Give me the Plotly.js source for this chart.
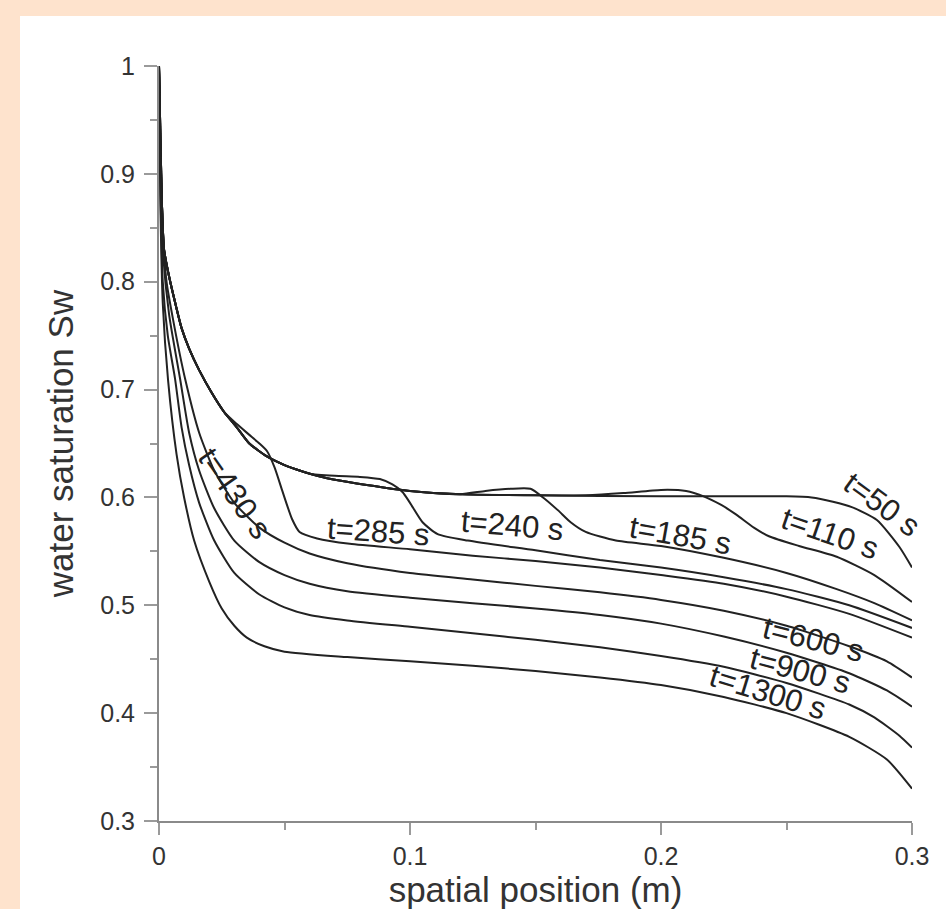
<!DOCTYPE html>
<html>
<head>
<meta charset="utf-8">
<script src="https://cdn.plot.ly/plotly-3.0.1.min.js"></script>
<style>
  html, body { margin: 0; padding: 0; background: #FEE3CD; width: 946px; height: 909px; overflow: hidden; }
  #plot { position: absolute; left: 20px; top: 16px; width: 926px; height: 893px; }
</style>
</head>
<body>
<div id="plot"></div>
<script>
// ---- data ----
const timeLabels = ["t=50 s", "t=110 s", "t=185 s", "t=240 s", "t=285 s", "t=430 s", "t=600 s", "t=900 s", "t=1300 s"];

// common early envelope shared by the early-time profiles
const xEnv  = [0, 0.0006, 0.0012, 0.002, 0.004, 0.0065, 0.009, 0.012, 0.016, 0.021, 0.026, 0.031, 0.036, 0.043, 0.05, 0.056, 0.065, 0.076, 0.09, 0.1, 0.12];
const swEnv = [1, 0.93, 0.87, 0.83, 0.805, 0.78, 0.757, 0.738, 0.718, 0.697, 0.679, 0.665, 0.65, 0.638, 0.63, 0.625, 0.619, 0.614, 0.609, 0.606, 0.603];

const x_t50  = [0.15, 0.2, 0.25, 0.26, 0.2685, 0.276, 0.286, 0.295, 0.3];
const sw_t50 = [0.602, 0.601, 0.601, 0.6, 0.596, 0.591, 0.579, 0.554, 0.535];

const x_t110  = [0.15, 0.17, 0.185, 0.2, 0.21, 0.217, 0.224, 0.23, 0.237, 0.243, 0.255, 0.27, 0.285, 0.3];
const sw_t110 = [0.602, 0.602, 0.604, 0.607, 0.606, 0.601, 0.593, 0.584, 0.572, 0.564, 0.555, 0.545, 0.528, 0.503];

const x_t185  = [0.13, 0.14, 0.148, 0.153, 0.159, 0.164, 0.17, 0.182, 0.2, 0.225, 0.25, 0.27, 0.285, 0.3];
const sw_t185 = [0.606, 0.608, 0.608, 0.6, 0.588, 0.577, 0.568, 0.56, 0.555, 0.544, 0.53, 0.515, 0.502, 0.486];

const x_t240  = [0.06, 0.07, 0.08, 0.088, 0.093, 0.097, 0.1, 0.105, 0.111, 0.123, 0.15, 0.1757, 0.2, 0.225, 0.25, 0.275, 0.3];
const sw_t240 = [0.622, 0.62, 0.619, 0.617, 0.612, 0.605, 0.595, 0.577, 0.566, 0.56, 0.551, 0.542, 0.535, 0.526, 0.515, 0.5, 0.479];

const x_t285  = [0.031, 0.036, 0.04, 0.043, 0.046, 0.049, 0.053, 0.056, 0.063, 0.076, 0.1, 0.125, 0.15, 0.1757, 0.2, 0.225, 0.25, 0.275, 0.3];
const sw_t285 = [0.668, 0.658, 0.65, 0.643, 0.628, 0.607, 0.58, 0.568, 0.562, 0.557, 0.552, 0.546, 0.541, 0.535, 0.528, 0.52, 0.508, 0.492, 0.47];

const x_t430  = [0, 0.0006, 0.0015, 0.003, 0.006, 0.0104, 0.016, 0.022, 0.03, 0.04, 0.05, 0.06, 0.075, 0.1, 0.125, 0.15, 0.1757, 0.2, 0.225, 0.25, 0.275, 0.29, 0.3];
const sw_t430 = [1, 0.92, 0.85, 0.8, 0.76, 0.71, 0.66, 0.625, 0.595, 0.572, 0.558, 0.548, 0.539, 0.53, 0.524, 0.518, 0.512, 0.505, 0.495, 0.481, 0.462, 0.448, 0.433];

const x_t600  = [0, 0.0006, 0.0015, 0.004, 0.0084, 0.012, 0.016, 0.022, 0.03, 0.04, 0.05, 0.06, 0.075, 0.1, 0.125, 0.15, 0.1757, 0.2, 0.225, 0.25, 0.275, 0.29, 0.3];
const sw_t600 = [1, 0.91, 0.83, 0.77, 0.71, 0.66, 0.625, 0.59, 0.56, 0.54, 0.528, 0.52, 0.513, 0.507, 0.502, 0.497, 0.491, 0.483, 0.471, 0.456, 0.437, 0.421, 0.406];

const x_t900  = [0, 0.0005, 0.0015, 0.0035, 0.0064, 0.009, 0.012, 0.016, 0.022, 0.03, 0.04, 0.05, 0.06, 0.075, 0.1, 0.125, 0.15, 0.1757, 0.2, 0.225, 0.25, 0.275, 0.285, 0.295, 0.3];
const sw_t900 = [1, 0.9, 0.8, 0.75, 0.71, 0.665, 0.63, 0.595, 0.56, 0.53, 0.51, 0.498, 0.491, 0.486, 0.48, 0.474, 0.468, 0.461, 0.453, 0.443, 0.428, 0.408, 0.396, 0.379, 0.368];

const x_t1300  = [0, 0.0005, 0.0015, 0.0036, 0.007, 0.01, 0.014, 0.02, 0.025, 0.03, 0.035, 0.042, 0.05, 0.075, 0.1, 0.125, 0.15, 0.1757, 0.2, 0.225, 0.25, 0.275, 0.29, 0.3];
const sw_t1300 = [1, 0.88, 0.78, 0.709, 0.64, 0.6, 0.56, 0.522, 0.497, 0.481, 0.47, 0.462, 0.457, 0.452, 0.448, 0.444, 0.439, 0.433, 0.426, 0.415, 0.4, 0.378, 0.357, 0.33];

const xTickVals = [0, 0.1, 0.2, 0.3];
const yTickVals = [0.3, 0.4, 0.5, 0.6, 0.7, 0.8, 0.9, 1];

// ---- build traces ----
function withEnv(xs, ys) {
  const x0 = xs[0];
  const ex = [], ey = [];
  for (let i = 0; i < xEnv.length; i++) {
    if (xEnv[i] < x0) { ex.push(xEnv[i]); ey.push(swEnv[i]); }
  }
  return { x: ex.concat(xs), y: ey.concat(ys) };
}
const curves = [
  withEnv(x_t50, sw_t50),
  withEnv(x_t110, sw_t110),
  withEnv(x_t185, sw_t185),
  withEnv(x_t240, sw_t240),
  withEnv(x_t285, sw_t285),
  { x: x_t430, y: sw_t430 },
  { x: x_t600, y: sw_t600 },
  { x: x_t900, y: sw_t900 },
  { x: x_t1300, y: sw_t1300 }
];
const traces = curves.map((c, i) => ({
  x: c.x, y: c.y, name: timeLabels[i], type: 'scatter', mode: 'lines',
  line: { color: '#222222', width: 2, shape: 'spline', smoothing: 0.6 },
  hoverinfo: 'skip'
}));

// label placement (layout only)
const labelPos = [
  [0.288, 0.593, 36], [0.2673, 0.567, 19], [0.2076, 0.565, 10], [0.141, 0.574, 5],
  [0.0873, 0.568, 4], [0.0303, 0.604, 55], [0.2606, 0.468, 14], [0.2554, 0.44, 15], [0.2426, 0.419, 17]
];
const annotations = timeLabels.map((t, i) => ({
  x: labelPos[i][0], y: labelPos[i][1], xref: 'x', yref: 'y', text: t,
  showarrow: false, textangle: labelPos[i][2],
  font: { family: 'Liberation Sans, Arial, sans-serif', size: 31, color: '#222' }
}));

const axisCommon = {
  showgrid: false, zeroline: false, showline: true, linecolor: '#8a8a8a', linewidth: 2,
  ticks: 'outside', tickcolor: '#9a9a9a', tickwidth: 2, ticklen: 13,
  tickfont: { family: 'Liberation Sans, Arial, sans-serif', size: 25, color: '#333' },
  minor: { ticks: 'outside', dtick: 0.05, tick0: 0, ticklen: 7, tickwidth: 2, tickcolor: '#9a9a9a' }
};

const layout = {
  width: 926, height: 893,
  margin: { l: 139, r: 34, t: 50, b: 88 },
  paper_bgcolor: '#ffffff', plot_bgcolor: '#ffffff',
  showlegend: false,
  xaxis: Object.assign({}, axisCommon, {
    range: [0, 0.3], tickvals: xTickVals, ticktext: xTickVals.map(String), ticklen: 12,
    title: { text: 'spatial position (m)', standoff: 6,
      font: { family: 'Liberation Sans, Arial, sans-serif', size: 35, color: '#333' } }
  }),
  yaxis: Object.assign({}, axisCommon, {
    range: [0.3, 1], tickvals: yTickVals, ticktext: yTickVals.map(String),
    ticklabelstandoff: 4,
    title: { text: 'water saturation Sw', standoff: 16,
      font: { family: 'Liberation Sans, Arial, sans-serif', size: 35, color: '#333' } }
  }),
  annotations: annotations
};

Plotly.newPlot('plot', traces, layout, { displayModeBar: false, staticPlot: true });
</script>
</body>
</html>
